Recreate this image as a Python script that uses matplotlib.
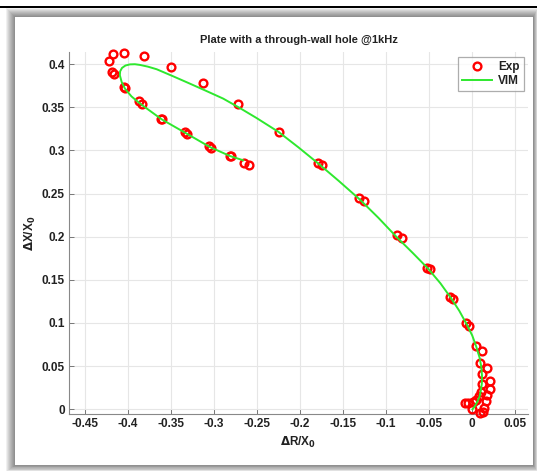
import numpy as np
import matplotlib
matplotlib.use("Agg")
import matplotlib.pyplot as plt
from matplotlib.patches import Rectangle

plt.rcParams['font.family'] = ['Liberation Sans', 'DejaVu Sans']

# ---- data -----------------------------------------------------------------
exp_x = [-0.4221, -0.4178, -0.4044, -0.3815, -0.4183, -0.4167, -0.3502, -0.4044,
         -0.4032, -0.3870, -0.3835, -0.3134, -0.3614, -0.3600, -0.3343, -0.3319,
         -0.3057, -0.3041, -0.2817, -0.2800, -0.2654, -0.2596, -0.2720, -0.2251,
         -0.1792, -0.1749, -0.1319, -0.1261, -0.0870, -0.0817, -0.0522, -0.0495,
         -0.0259, -0.0228, -0.0077, -0.0039,
         0.0047, 0.0117, 0.0094, 0.0175, 0.0117, 0.0202, 0.0112, 0.0202, 0.0098,
         0.0171, 0.0074, 0.0155, 0.0047, 0.0008, -0.0050, -0.0089, -0.0001,
         0.0132, 0.0085, 0.0124]
exp_y = [0.4031, 0.4112, 0.4132, 0.4089, 0.3907, 0.3884, 0.3965, 0.3734,
         0.3722, 0.3568, 0.3537, 0.3781, 0.3368, 0.3360, 0.3209, 0.3186,
         0.3047, 0.3032, 0.2935, 0.2930, 0.2854, 0.2828, 0.3534, 0.3213,
         0.2859, 0.2831, 0.2449, 0.2411, 0.2025, 0.1986, 0.1635, 0.1624,
         0.1303, 0.1277, 0.0995, 0.0968,
         0.0736, 0.0675, 0.0540, 0.0474, 0.0405, 0.0331, 0.0293, 0.0231, 0.0200,
         0.0166, 0.0154, 0.0096, 0.0108, 0.0088, 0.0076, 0.0069, 0.0003,
         0.0012, -0.0046, -0.0028]

vim_x = [-0.2662, -0.2817, -0.3049, -0.3319, -0.3610, -0.3861, -0.3960, -0.4036,
         -0.4074, -0.4095, -0.4092, -0.4070, -0.4030, -0.3978, -0.3920, -0.3862,
         -0.3770, -0.3668, -0.3480, -0.3281, -0.3090, -0.2895, -0.2700, -0.2507,
         -0.2250, -0.2020, -0.1792, -0.1550, -0.1307, -0.1090, -0.0881, -0.0690,
         -0.0515, -0.0370, -0.0244, -0.0150, -0.0070, 0.0000, 0.0047, 0.0085,
         0.0105, 0.0113, 0.0112, 0.0100, 0.0085, 0.0055, 0.0027, 0.0003]
vim_y = [0.2885, 0.2935, 0.3039, 0.3194, 0.3360, 0.3542, 0.3625, 0.3715,
         0.3792, 0.3870, 0.3915, 0.3955, 0.3983, 0.3996, 0.3998, 0.3990,
         0.3970, 0.3940, 0.3860, 0.3773, 0.3688, 0.3600, 0.3490, 0.3375,
         0.3213, 0.3035, 0.2850, 0.2645, 0.2431, 0.2218, 0.1998, 0.1810,
         0.1632, 0.1460, 0.1285, 0.1140, 0.0995, 0.0855, 0.0725, 0.0600,
         0.0493, 0.0395, 0.0301, 0.0220, 0.0146, 0.0080, 0.0030, 0.0000]

xticks = [-0.45, -0.4, -0.35, -0.3, -0.25, -0.2, -0.15, -0.1, -0.05, 0, 0.05]
yticks = [0, 0.05, 0.1, 0.15, 0.2, 0.25, 0.3, 0.35, 0.4]

W, H = 537, 471
fig = plt.figure(figsize=(W / 100, H / 100), dpi=100)


def box(x0, y0, x1, y1, **kw):
    # pixel box (image coords, y down) -> figure fraction rectangle
    fig.patches.append(Rectangle((x0 / W, 1 - y1 / H), (x1 - x0) / W, (y1 - y0) / H,
                                 transform=fig.transFigure, figure=fig, zorder=-5, **kw))


# black rule at the top of the page
box(0, 5.5, W, 8, facecolor="black", edgecolor="none")
# soft shadow around the panel, then the white panel itself
for i in range(9, 0, -1):
    box(15 - i, 17 - i, 533 + i * 0.55, 465 + i * 0.75,
        facecolor="black", edgecolor="none", alpha=0.06)
box(15, 17, 533, 465, facecolor="white", edgecolor="none")

ax = fig.add_axes([69 / W, 1 - 414.3 / H, (528 - 69) / W, (414.3 - 51.7) / H])
ax.set_zorder(5)
ax.patch.set_alpha(0)
ax.plot(exp_x, exp_y, "o", ms=5.6, mfc="none", mec="#ff0000", mew=1.7,
        label="Exp", clip_on=False, zorder=3)
ax.plot(vim_x, vim_y, "-", color="#2ee82e", lw=1.4, label="VIM", zorder=4)

ax.set_xlim(-0.4686, 0.0648)
ax.set_ylim(-0.0058, 0.4143)
ax.set_xticks(xticks)
ax.set_xticklabels([f"{v:g}" for v in xticks])
ax.set_yticks(yticks)
ax.set_yticklabels([f"{v:g}" for v in yticks])
ax.tick_params(direction="in", length=3.5, width=0.7, color="#777777",
               labelsize=8.5, pad=3)
for lab in ax.get_xticklabels() + ax.get_yticklabels():
    lab.set_fontweight("bold")
    lab.set_color("#222222")
ax.grid(True, color="#e6e6e6", lw=0.8)
ax.set_axisbelow(True)
ax.spines[["top", "right"]].set_visible(False)
for s in ("left", "bottom"):
    ax.spines[s].set_color("#888888")
    ax.spines[s].set_linewidth(0.8)

ax.set_title("Plate with a through-wall hole @1kHz", fontsize=8, fontweight="bold",
             pad=6, color="#222222")
ax.set_xlabel(r"$\mathbf{\Delta}$R/X$_\mathbf{0}$", fontsize=8.5, fontweight="bold",
              labelpad=3, color="#222222")
ax.set_ylabel(r"$\mathbf{\Delta}$X/X$_\mathbf{0}$", fontsize=8.5, fontweight="bold",
              labelpad=3, color="#222222")

leg = ax.legend(loc="upper right", bbox_to_anchor=(0.991, 0.986), borderaxespad=0,
                fontsize=8.5, frameon=True, fancybox=False, handlelength=2.6,
                borderpad=0.35, labelspacing=0.2, handletextpad=0.5)
leg.get_frame().set_edgecolor("#999999")
leg.get_frame().set_linewidth(0.9)
for t in leg.get_texts():
    t.set_fontweight("bold")
    t.set_color("#222222")

fig.savefig("out.png", dpi=100)
